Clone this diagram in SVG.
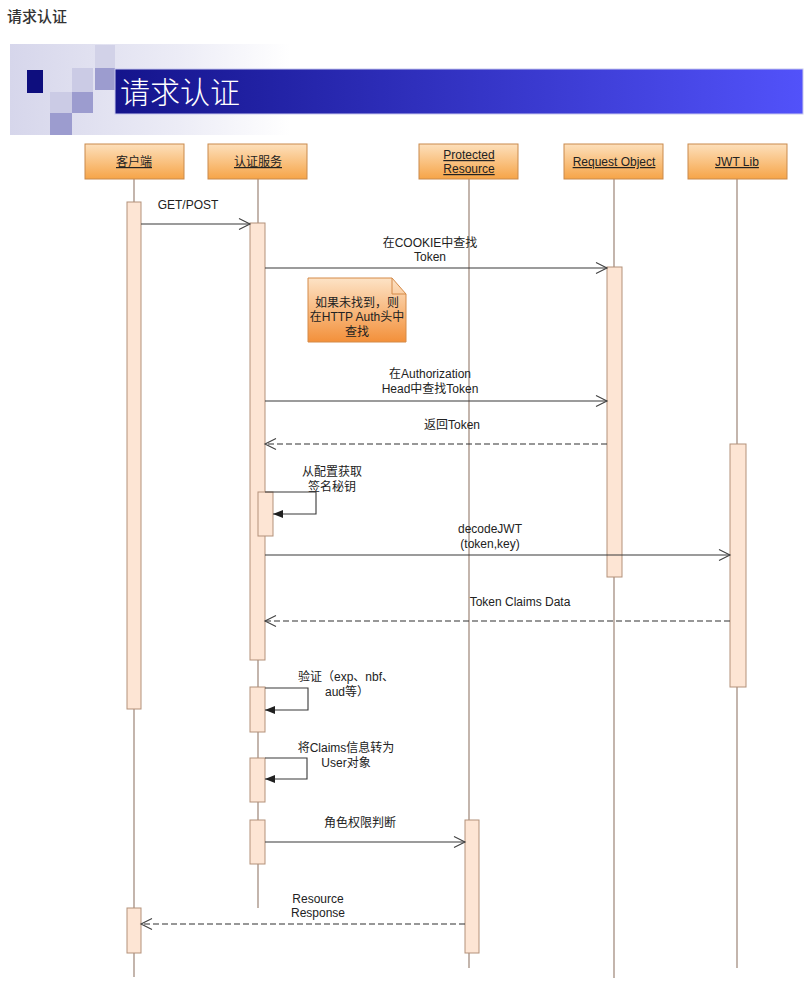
<svg xmlns="http://www.w3.org/2000/svg" width="810" height="981" viewBox="0 0 810 981">
<defs>
<linearGradient id="bg" x1="0" y1="0" x2="1" y2="0">
<stop offset="0" stop-color="#d6d6eb"/>
<stop offset="0.6" stop-color="#ececf6"/>
<stop offset="1" stop-color="#ffffff"/>
</linearGradient>
<linearGradient id="bar" x1="0" y1="0" x2="1" y2="0">
<stop offset="0" stop-color="#14148c"/>
<stop offset="1" stop-color="#5252fa"/>
</linearGradient>
<linearGradient id="hdr" x1="0" y1="0" x2="0" y2="1">
<stop offset="0" stop-color="#fde0bc"/>
<stop offset="1" stop-color="#f6a447"/>
</linearGradient>
<linearGradient id="note" x1="0" y1="0" x2="0" y2="1">
<stop offset="0" stop-color="#fde3c6"/>
<stop offset="1" stop-color="#f3903a"/>
</linearGradient>
<marker id="open" markerUnits="userSpaceOnUse" markerWidth="14" markerHeight="14" refX="12" refY="6" orient="auto">
<path d="M1,0.5 L12,6 L1,11.5" fill="none" stroke="#404040" stroke-width="1.1"/>
</marker>
<marker id="solid" markerUnits="userSpaceOnUse" markerWidth="12" markerHeight="10" refX="10" refY="4" orient="auto">
<path d="M0,0 L10,4 L0,8 Z" fill="#202020"/>
</marker>
</defs>
<style>
.t{font-family:"Liberation Sans","Noto Sans CJK SC",sans-serif;font-size:12px;fill:#222;text-anchor:middle}
.h{font-family:"Liberation Sans","Noto Sans CJK SC",sans-serif;font-size:12px;fill:#222;text-anchor:middle;text-decoration:underline}
.box{fill:url(#hdr);stroke:#c98a4c;stroke-width:1}
.life{stroke:#b5a398;stroke-width:1.6;fill:none}
.act{fill:#fde5d4;stroke:#b3917a;stroke-width:1}
.msg{stroke:#383838;stroke-width:1.1;fill:none}
.ret{stroke:#303030;stroke-width:1.2;fill:none;stroke-dasharray:6,3}
</style>
<rect width="810" height="981" fill="#ffffff"/>
<text x="7" y="22" style="font-family:'Noto Sans CJK SC',sans-serif;font-size:15px;fill:#333;font-weight:500">请求认证</text>

<g id="banner">
<rect x="10" y="44" width="280" height="91" fill="url(#bg)"/>
<rect x="95" y="45" width="20" height="23" fill="#d2d2e8"/>
<rect x="72" y="68" width="21" height="24" fill="#cbcbe5"/>
<rect x="50" y="92" width="22" height="21" fill="#cbcbe5"/>
<rect x="95" y="68" width="20" height="22" fill="#9c9ccf"/>
<rect x="72" y="92" width="21" height="21" fill="#9c9ccf"/>
<rect x="50" y="113" width="22" height="22" fill="#9c9ccf"/>
<rect x="27" y="70" width="16" height="23" fill="#0e0e7e"/>
<rect x="115" y="69" width="688" height="45" fill="url(#bar)" stroke="#c8c8ee" stroke-width="1"/>
<text x="120" y="103" style="font-family:'Noto Sans CJK SC',sans-serif;font-size:30px;fill:#ffffff;font-weight:300">请求认证</text>
</g>

<g id="lifelines">
<line class="life" x1="134" y1="179" x2="134" y2="977"/>
<line class="life" x1="258" y1="179" x2="258" y2="908"/>
<line class="life" x1="469" y1="179" x2="469" y2="968"/>
<line class="life" x1="614" y1="179" x2="614" y2="978"/>
<line class="life" x1="737" y1="179" x2="737" y2="968"/>
</g>

<g id="client">
<rect class="box" x="85" y="144" width="99" height="35"/>
<text class="h" x="134" y="166">客户端</text>
<rect class="act" x="127" y="202" width="14" height="507"/>
<rect class="act" x="127" y="908" width="14" height="45"/>
</g>
<g id="auth">
<rect class="box" x="208" y="144" width="99" height="35"/>
<text class="h" x="258" y="166">认证服务</text>
<rect class="act" x="250" y="223" width="15" height="437"/>
<rect class="act" x="258" y="492" width="15" height="44"/>
<rect class="act" x="250" y="687" width="15" height="45"/>
<rect class="act" x="250" y="758" width="15" height="44"/>
<rect class="act" x="250" y="820" width="15" height="44"/>
</g>
<g id="protected">
<rect class="box" x="419" y="144" width="99" height="35"/>
<text class="h" x="469" y="159">Protected </text>
<text class="h" x="469" y="173">Resource</text>
<rect class="act" x="465" y="820" width="14" height="133"/>
</g>
<g id="request">
<rect class="box" x="564" y="144" width="99" height="35"/>
<text class="h" x="614" y="166">Request Object</text>
<rect class="act" x="607" y="267" width="15" height="310"/>
</g>
<g id="jwt">
<rect class="box" x="688" y="144" width="99" height="35"/>
<text class="h" x="737" y="166">JWT Lib</text>
<rect class="act" x="730" y="444" width="16" height="243"/>
</g>

<g id="note1">
<path d="M308,278 L392,278 L406,294 L406,342 L308,342 Z" fill="url(#note)" stroke="#d48a48" stroke-width="1"/>
<path d="M392,278 L392,294 L406,294" fill="none" stroke="#d48a48" stroke-width="1"/>
<text class="t" x="357" y="307">如果未找到，则</text>
<text class="t" x="357" y="321">在HTTP Auth头中</text>
<text class="t" x="357" y="336">查找</text>
</g>

<g id="connectors">
<line class="msg" x1="141" y1="224" x2="250" y2="224" marker-end="url(#open)"/>
<text class="t" x="188" y="209">GET/POST</text>

<line class="msg" x1="265" y1="268" x2="607" y2="268" marker-end="url(#open)"/>
<text class="t" x="430" y="247">在COOKIE中查找</text>
<text class="t" x="430" y="261">Token</text>

<line class="msg" x1="265" y1="401" x2="607" y2="401" marker-end="url(#open)"/>
<text class="t" x="430" y="378">在Authorization</text>
<text class="t" x="430" y="393">Head中查找Token</text>

<line class="ret" x1="607" y1="444" x2="265" y2="444" marker-end="url(#open)"/>
<text class="t" x="452" y="429">返回Token</text>

<polyline class="msg" points="265,492 316,492 316,514 273,514" marker-end="url(#solid)"/>
<text class="t" x="332" y="476">从配置获取</text>
<text class="t" x="332" y="491">签名秘钥</text>

<line class="msg" x1="265" y1="555" x2="730" y2="555" marker-end="url(#open)"/>
<text class="t" x="490" y="533">decodeJWT</text>
<text class="t" x="490" y="548">(token,key)</text>

<line class="ret" x1="730" y1="621" x2="265" y2="621" marker-end="url(#open)"/>
<text class="t" x="520" y="606">Token Claims Data</text>

<polyline class="msg" points="265,688 308,688 308,710 265,710" marker-end="url(#solid)"/>
<text class="t" x="346" y="681">验证（exp、nbf、</text>
<text class="t" x="347" y="696">aud等）</text>

<polyline class="msg" points="265,758 307,758 307,779 265,779" marker-end="url(#solid)"/>
<text class="t" x="346" y="752">将Claims信息转为</text>
<text class="t" x="346" y="767">User对象</text>

<line class="msg" x1="265" y1="842" x2="465" y2="842" marker-end="url(#open)"/>
<text class="t" x="360" y="827">角色权限判断</text>

<line class="ret" x1="465" y1="924" x2="141" y2="924" marker-end="url(#open)"/>
<text class="t" x="318" y="903">Resource</text>
<text class="t" x="318" y="917">Response</text>
</g>
</svg>
